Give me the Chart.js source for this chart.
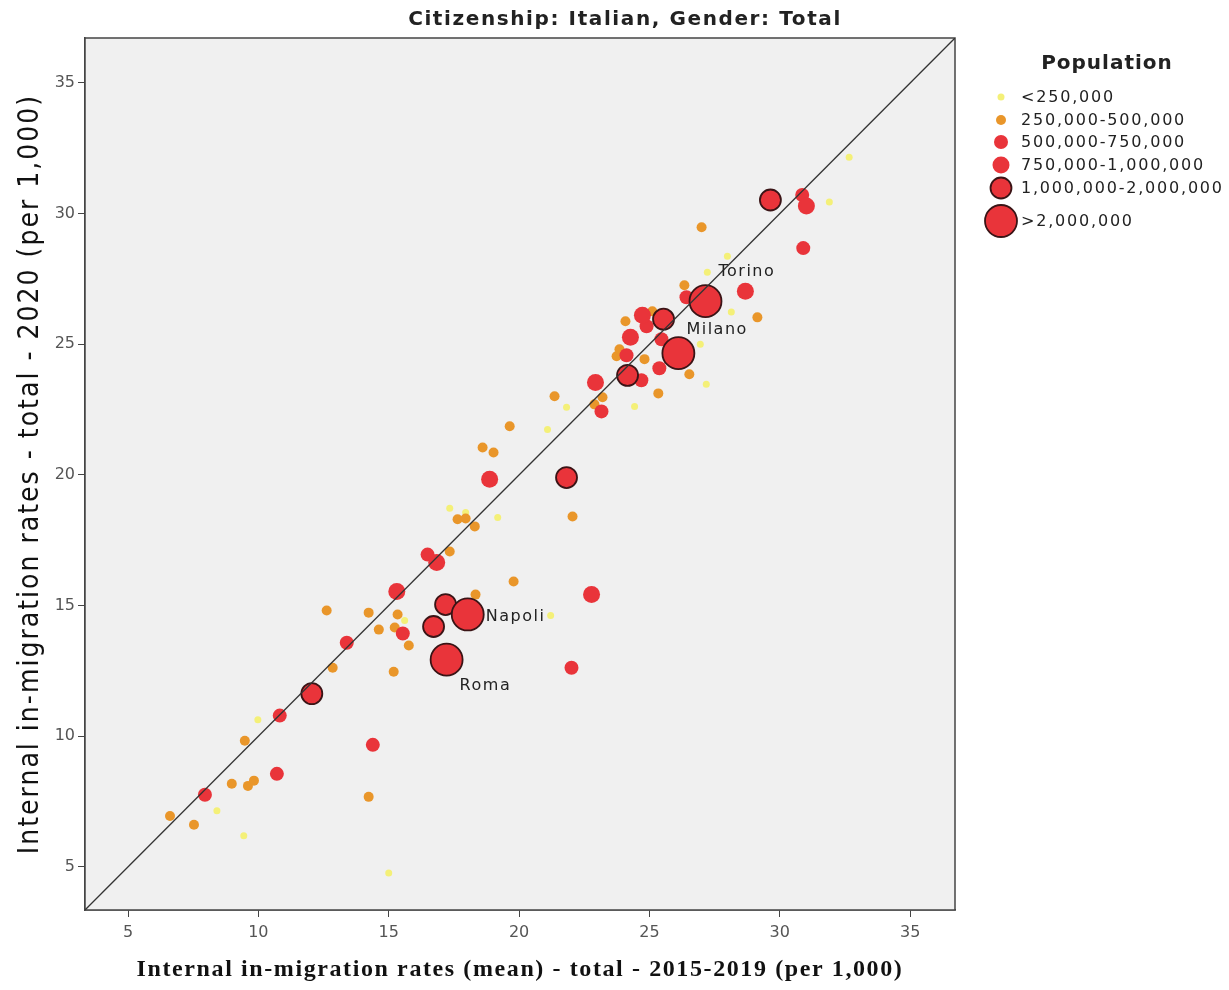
<!DOCTYPE html>
<html>
<head>
<meta charset="utf-8">
<script src="https://cdn.jsdelivr.net/npm/chart.js@4.4.0/dist/chart.umd.min.js"></script>
<style>
  body { margin: 0; background: #fff; }
</style>
</head>
<body>
<canvas id="migrationChart" width="1229" height="990"></canvas>
<script>
// Population classes (legend order)
const classLabels = ['<250,000', '250,000-500,000', '500,000-750,000', '750,000-1,000,000', '1,000,000-2,000,000', '>2,000,000'];

// x = mean rate 2015-2019, y = rate 2020 (per 1,000)
const popUnder250X = [32.66, 31.90, 27.99, 27.22, 28.14, 26.95, 27.18, 24.43, 21.82, 21.09, 17.34, 17.95, 19.18, 15.61, 21.21, 9.98, 8.41, 9.44, 15.00];
const popUnder250Y = [32.16, 30.44, 28.37, 27.76, 26.23, 25.00, 23.47, 22.62, 22.59, 21.74, 18.72, 18.56, 18.37, 14.43, 14.62, 10.63, 7.15, 6.19, 4.77];

const pop250to500X = [27.00, 29.14, 26.34, 24.08, 25.11, 23.74, 23.85, 24.81, 26.53, 25.34, 21.36, 23.20, 22.89, 19.64, 18.60, 19.02, 17.64, 17.95, 18.30, 22.05, 17.34, 18.33, 19.79, 12.62, 14.23, 15.34, 14.62, 15.23, 15.77, 12.85, 15.19, 9.48, 8.98, 9.60, 9.83, 6.61, 7.53, 14.23];
const pop250to500Y = [29.48, 26.03, 27.26, 25.88, 26.26, 24.54, 24.81, 24.43, 23.85, 23.12, 23.01, 22.97, 22.70, 21.86, 21.05, 20.86, 18.30, 18.33, 18.03, 18.41, 17.07, 15.42, 15.92, 14.81, 14.73, 14.66, 14.08, 14.16, 13.47, 12.62, 12.47, 9.83, 8.18, 8.10, 8.30, 6.95, 6.61, 7.68];

const pop500to750X = [30.86, 30.90, 26.42, 24.89, 25.46, 24.12, 24.69, 25.38, 23.16, 16.49, 15.54, 13.39, 10.82, 7.95, 10.71, 14.39, 22.01];
const pop500to750Y = [30.71, 28.68, 26.80, 25.69, 25.19, 24.58, 23.62, 24.08, 22.43, 16.95, 13.93, 13.58, 10.79, 7.76, 8.56, 9.67, 12.62];

const pop750to1000X = [31.02, 28.68, 24.73, 24.27, 22.93, 18.87, 15.31, 22.78, 16.84];
const pop750to1000Y = [30.29, 27.03, 26.11, 25.27, 23.54, 19.83, 15.54, 15.42, 16.65];

const pop1to2MX = [29.64, 25.54, 24.16, 21.82, 17.18, 16.72, 12.05];
const pop1to2MY = [30.52, 25.96, 23.81, 19.90, 15.04, 14.20, 11.63];

const popOver2MX = [27.15, 26.11, 18.03, 17.22];
const popOver2MY = [26.65, 24.66, 14.66, 12.93];
const cityNames = ['Torino', 'Milano', 'Napoli', 'Roma'];

const axisTicks = [5, 10, 15, 20, 25, 30, 35];
const axisRange = [3.35, 36.72];

const chartTitle = 'Citizenship: Italian, Gender: Total';
const xTitle = 'Internal in-migration rates (mean) - total - 2015-2019 (per 1,000)';
const yTitle = 'Internal in-migration rates - total - 2020 (per 1,000)';

function toPoints(xs, ys) {
    return xs.map((x, i) => ({ x: x, y: ys[i] }));
}

const RED = 'rgb(233, 52, 58)';
const ORANGE = 'rgb(233, 150, 42)';
const YELLOW = 'rgb(244, 240, 120)';
const RING = '#3a1416';

function pointSet(label, xs, ys, color, radius, ring, order) {
    return {
        type: 'scatter',
        label: label,
        data: toPoints(xs, ys),
        backgroundColor: color,
        borderColor: ring ? RING : color,
        borderWidth: ring ? 1.8 : 0,
        pointRadius: radius,
        pointHoverRadius: radius,
        order: order
    };
}

const bigCities = pointSet(classLabels[5], popOver2MX, popOver2MY, RED, 16, true, 1);
bigCities.cityNames = cityNames;
// label offsets from the bubble centre (px)
const cityOffsets = [[13, -29], [8, -23], [18, 2], [13, 26]];

const datasets = [
    {
        type: 'line',
        label: 'diagonal',
        data: toPoints(axisRange, axisRange),
        borderColor: '#333',
        borderWidth: 1.3,
        pointRadius: 0,
        fill: false,
        order: 0
    },
    bigCities,
    pointSet(classLabels[4], pop1to2MX, pop1to2MY, RED, 10.5, true, 2),
    pointSet(classLabels[3], pop750to1000X, pop750to1000Y, RED, 8.5, false, 3),
    pointSet(classLabels[2], pop500to750X, pop500to750Y, RED, 7, false, 4),
    pointSet(classLabels[1], pop250to500X, pop250to500Y, ORANGE, 5, false, 5),
    pointSet(classLabels[0], popUnder250X, popUnder250Y, YELLOW, 3.5, false, 6)
];

// grey plot background + frame
const plotFrame = {
    id: 'plotFrame',
    beforeDatasetsDraw(chart) {
        const a = chart.chartArea, ctx = chart.ctx;
        ctx.save();
        ctx.fillStyle = '#f0f0f0';
        ctx.fillRect(a.left, a.top, a.right - a.left, a.bottom - a.top);
        ctx.strokeStyle = '#444';
        ctx.lineWidth = 1.5;
        ctx.strokeRect(a.left, a.top, a.right - a.left, a.bottom - a.top);
        ctx.restore();
    }
};

// city names next to the largest bubbles
const cityLabels = {
    id: 'cityLabels',
    afterDatasetsDraw(chart) {
        const ctx = chart.ctx;
        chart.data.datasets.forEach((ds, di) => {
            if (!ds.cityNames) return;
            const meta = chart.getDatasetMeta(di);
            ctx.save();
            ctx.font = '16px "DejaVu Sans", sans-serif';
            ctx.letterSpacing = '1.5px';
            ctx.fillStyle = '#222';
            ctx.textBaseline = 'middle';
            ctx.textAlign = 'left';
            meta.data.forEach((pt, i) => {
                const off = cityOffsets[i];
                ctx.fillText(ds.cityNames[i], pt.x + off[0], pt.y + off[1]);
            });
            ctx.restore();
        });
    }
};

// titles + size legend
const sideLegend = {
    id: 'sideLegend',
    afterDraw(chart) {
        const ctx = chart.ctx, a = chart.chartArea;
        ctx.save();
        ctx.fillStyle = '#222';
        ctx.textAlign = 'center';
        ctx.textBaseline = 'middle';
        ctx.font = 'bold 20px "DejaVu Sans", sans-serif';
        ctx.letterSpacing = '1.6px';
        ctx.fillText(chartTitle, 625, 20);
        ctx.letterSpacing = '1px';
        ctx.fillText('Population', 1107, 64);

        // axis titles
        ctx.fillStyle = '#111';
        ctx.letterSpacing = '1.6px';
        ctx.font = 'bold 24px "Liberation Serif", serif';
        ctx.fillText(xTitle, (a.left + a.right) / 2, 970);
        ctx.save();
        ctx.translate(31, (a.top + a.bottom) / 2);
        ctx.rotate(-Math.PI / 2);
        ctx.letterSpacing = '2px';
        ctx.font = '28px "DejaVu Sans Condensed", "Liberation Sans", sans-serif';
        ctx.fillText(yTitle, 0, 0);
        ctx.restore();

        const rowsY = [97, 120, 142, 165, 188, 221];
        const items = chart.data.datasets.filter(d => d.type === 'scatter').slice().reverse();
        ctx.font = '16px "DejaVu Sans", sans-serif';
        ctx.letterSpacing = '1.8px';
        ctx.textAlign = 'left';
        items.forEach((ds, i) => {
            const y = rowsY[i];
            ctx.beginPath();
            ctx.arc(1001, y, ds.pointRadius, 0, Math.PI * 2);
            ctx.fillStyle = ds.backgroundColor;
            ctx.fill();
            if (ds.borderWidth > 0) {
                ctx.lineWidth = ds.borderWidth;
                ctx.strokeStyle = ds.borderColor;
                ctx.stroke();
            }
            ctx.fillStyle = '#222';
            ctx.fillText(ds.label, 1021, y + 1);
        });
        ctx.restore();
    }
};

const ctx = document.getElementById('migrationChart').getContext('2d');
new Chart(ctx, {
    data: { datasets: datasets },
    options: {
        responsive: false,
        animation: false,
        devicePixelRatio: 1,
        layout: { padding: { top: 38, right: 274, left: 0, bottom: 0 } },
        plugins: {
            legend: { display: false },
            tooltip: { enabled: false },
            title: { display: false }
        },
        scales: {
            x: {
                type: 'linear',
                min: axisRange[0],
                max: axisRange[1],
                afterBuildTicks: s => { s.ticks = axisTicks.map(v => ({ value: v })); },
                afterFit: s => { s.height = 80; },
                grid: { drawOnChartArea: false, drawTicks: true, tickLength: 7, color: '#444' },
                border: { display: true, color: '#444', width: 1.5 },
                ticks: { font: { family: 'DejaVu Sans', size: 16 }, color: '#555', padding: 6 }
            },
            y: {
                type: 'linear',
                min: axisRange[0],
                max: axisRange[1],
                afterBuildTicks: s => { s.ticks = axisTicks.map(v => ({ value: v })); },
                afterFit: s => { s.width = 85; },
                grid: { drawOnChartArea: false, drawTicks: true, tickLength: 7, color: '#444' },
                border: { display: true, color: '#444', width: 1.5 },
                ticks: { font: { family: 'DejaVu Sans', size: 16 }, color: '#555', padding: 3 }
            }
        }
    },
    plugins: [plotFrame, cityLabels, sideLegend]
});
</script>
</body>
</html>
